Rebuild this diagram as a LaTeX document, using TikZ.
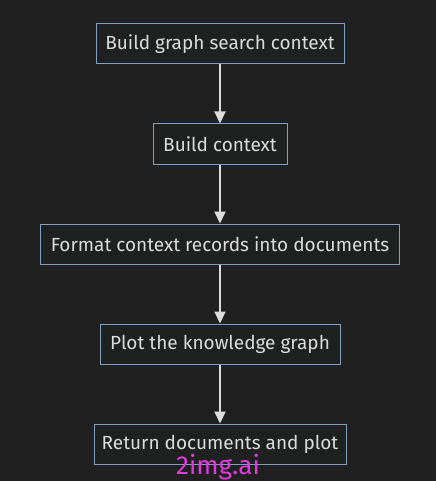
\documentclass[tikz,border=0pt]{standalone}
\usepackage{fontspec}
\setmainfont{Fira Sans}
\usetikzlibrary{arrows.meta}
\definecolor{bg}{HTML}{202020}
\definecolor{boxfill}{HTML}{1F2020}
\definecolor{boxline}{HTML}{7FA0C0}
\definecolor{txt}{HTML}{DCDCDC}
\definecolor{mark}{HTML}{E23AE2}
\begin{document}
\begin{tikzpicture}[x=1pt,y=-1pt,
  stepbox/.style={draw=boxline, fill=boxfill, line width=1pt, text=txt,
    font=\fontsize{19}{22}\selectfont, inner sep=0pt, anchor=center},
  flow/.style={draw=txt, line width=2pt, -{Triangle[length=12pt,width=11pt]}}]
\fill[bg] (0,0) rectangle (436,481);
\useasboundingbox (0,0) rectangle (436,481);
\node[stepbox, minimum width=248pt, minimum height=40pt] (a) at (220,44) {Build graph search context};
\node[stepbox, minimum width=134pt, minimum height=40pt] (b) at (220,144) {Build context};
\node[stepbox, minimum width=359pt, minimum height=40pt] (c) at (220,244) {Format context records into documents};
\node[stepbox, minimum width=240pt, minimum height=40pt] (d) at (220,344) {Plot the knowledge graph};
\node[stepbox, minimum width=252pt, minimum height=40pt] (e) at (220,444) {Return documents and plot};
\draw[flow] (a) -- (b);
\draw[flow] (b) -- (c);
\draw[flow] (c) -- (d);
\draw[flow] (d) -- (e);
\node[text=mark, font=\fontsize{26}{30}\selectfont, inner sep=0pt] (w) at (218,467) {2img.ai};
\end{tikzpicture}
\end{document}
